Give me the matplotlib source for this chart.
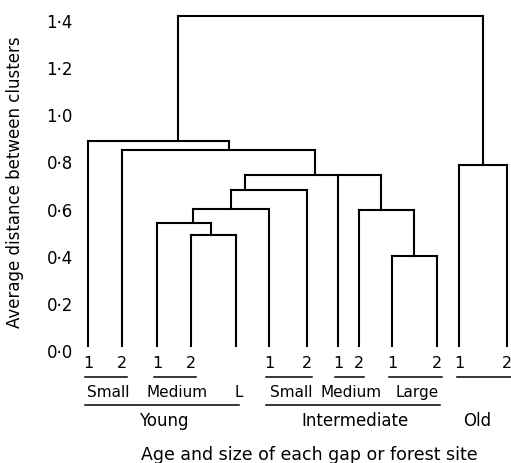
import matplotlib.pyplot as plt
import matplotlib.transforms as mtransforms

# leaves (x position, label above the underline)
leaf_x = [88, 122, 157, 191, 236, 269, 307, 338, 359, 392, 437, 459, 507]
leaf_num = ['1', '2', '1', '2', '', '1', '2', '1', '2', '1', '2', '1', '2']

# merges: node ids 13.. in this order
merge_height = [0.47, 0.52, 0.58, 0.66, 0.38, 0.575, 0.725, 0.83, 0.87, 0.77, 1.40]
merge_children = [(3, 4), (2, 13), (14, 5), (15, 6), (9, 10), (8, 17),
                  (16, 7, 18), (1, 19), (0, 20), (11, 12), (21, 22)]
merge_x = [211, 193, 231, 245, 414, 381, 315, 229, 178, 483, 330]

# groups below the leaves
size_labels = ['Small', 'Medium', 'L', 'Small', 'Medium', 'Large']
size_leaves = [(0, 1), (2, 3), (4, 4), (5, 6), (7, 8), (9, 10)]
age_labels = ['Young', 'Intermediate', 'Old']
age_leaves = [(0, 4), (5, 10), (11, 12)]

yticks = [0.0, 0.2, 0.4, 0.6, 0.8, 1.0, 1.2, 1.4]

plt.rcParams['font.family'] = 'DejaVu Sans'
fig = plt.figure(figsize=(5.11, 4.64), dpi=100)
ax = fig.add_axes([84 / 511, 117 / 464, 427 / 511, 330 / 464])
ax.set_xlim(84, 511)
ax.set_ylim(0, 1.4)
for s in ax.spines.values():
    s.set_visible(False)
ax.set_xticks([])
ax.set_yticks(yticks)
ax.set_yticklabels([('%.1f' % v).replace('.', '·') for v in yticks], fontsize=12)
ax.tick_params(axis='y', length=0, pad=8)
shift = mtransforms.ScaledTranslation(0, -4 / 100, fig.dpi_scale_trans)
for lab in ax.get_yticklabels():
    lab.set_transform(lab.get_transform() + shift)

lw = 1.5
kw = dict(color='black', lw=lw, clip_on=False, solid_capstyle='projecting')

node_x = list(leaf_x)
node_h = [0.0] * len(leaf_x)
for h, ch, x in zip(merge_height, merge_children, merge_x):
    xs = [node_x[c] for c in ch]
    ax.plot([min(xs), max(xs)], [h, h], **kw)
    for c in ch:
        ax.plot([node_x[c], node_x[c]], [node_h[c], h], **kw)
    node_x.append(x)
    node_h.append(h)

# row positions below the axis (data units)
y_num, y_uline, y_size, y_aline, y_age = -0.068, -0.132, -0.195, -0.252, -0.314

for x, t in zip(leaf_x, leaf_num):
    ax.text(x, y_num, t, ha='center', va='center', fontsize=11.5)

for lab, (a, b) in zip(size_labels, size_leaves):
    if a != b:
        ax.plot([leaf_x[a] - 3, leaf_x[b] + 5], [y_uline, y_uline], color='black', lw=1.1, clip_on=False)
    ax.text((leaf_x[a] + leaf_x[b]) / 2 + 3, y_size, lab, ha='center', va='center', fontsize=11)

for lab, (a, b) in zip(age_labels, age_leaves):
    if lab == 'Old':
        ax.plot([leaf_x[a] - 2, leaf_x[b] + 8], [y_uline, y_uline], color='black', lw=1.1, clip_on=False)
        ax.text((leaf_x[a] + leaf_x[b]) / 2 - 6, y_age, lab, ha='center', va='center', fontsize=12)
    else:
        ax.plot([leaf_x[a] - 3, leaf_x[b] + 3], [y_aline, y_aline], color='black', lw=1.1, clip_on=False)
        ax.text((leaf_x[a] + leaf_x[b]) / 2 + 2, y_age, lab, ha='center', va='center', fontsize=12)

ax.text(309, -0.459, 'Age and size of each gap or forest site', ha='center', va='center', fontsize=12.5)
fig.text(15 / 511, 1 - 182 / 464, 'Average distance between clusters', rotation=90,
         ha='center', va='center', fontsize=12)

fig.savefig('out.png', dpi=100)
